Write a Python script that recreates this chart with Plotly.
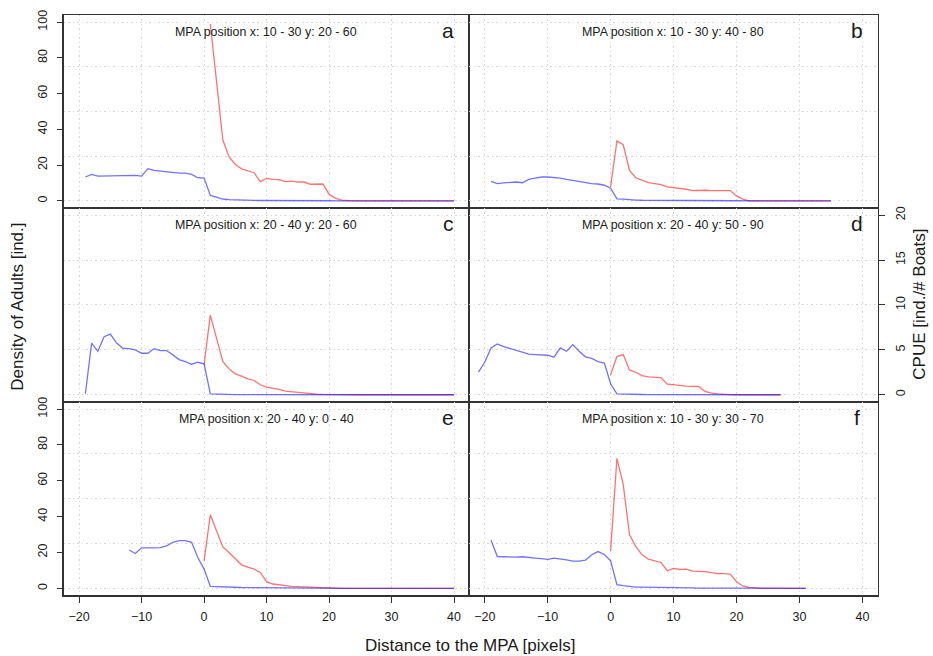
import plotly.graph_objects as go

# ---------------- data ----------------
panel_ids = ["a", "b", "c", "d", "e", "f"]
panel_titles = [
    "MPA position x: 10 - 30 y: 20 - 60",
    "MPA position x: 10 - 30 y: 40 - 80",
    "MPA position x: 20 - 40 y: 20 - 60",
    "MPA position x: 20 - 40 y: 50 - 90",
    "MPA position x: 20 - 40 y: 0 - 40",
    "MPA position x: 10 - 30 y: 30 - 70",
]

# Density of adults (blue, left axis)
dist_a_density = list(range(-19, 41))
density_a = [13.3, 14.8, 13.8, 13.9, 14.0, 14.2, 14.0, 14.0, 14.2, 13.8, 18.0, 17.0, 16.6, 16.3, 15.7, 15.5, 15.5, 14.8, 12.9, 12.7,
             3.0, 1.8, 1.0, 0.6, 0.4, 0.3, 0.25, 0.2, 0.15, 0.1, 0.1, 0.08, 0.06, 0.05, 0.04, 0.03, 0.02, 0.02, 0.01, 0.01,
             0, 0, 0, 0, 0, 0, 0, 0, 0, 0, 0, 0, 0, 0, 0, 0, 0, 0, 0, 0]
dist_b_density = list(range(-19, 36))
density_b = [10.9, 9.6, 10.0, 10.3, 10.5, 10.1, 12.0, 12.7, 13.3, 13.3, 13.1, 12.7, 12.0, 11.4, 10.7, 10.1, 9.6, 9.4, 8.7, 7.0,
             1.1, 0.9, 0.55, 0.4, 0.3, 0.25, 0.2, 0.15, 0.12, 0.1, 0.08, 0.06, 0.05, 0.04, 0.03, 0.02, 0.02, 0.01, 0.01, 0.01,
             0, 0, 0, 0, 0, 0, 0, 0, 0, 0, 0, 0, 0, 0, 0]
dist_c_density = list(range(-19, 41))
density_c = [0.55, 28.7, 24.2, 32.3, 33.8, 28.8, 25.9, 25.7, 25.0, 23.1, 23.1, 25.7, 24.6, 24.6, 22.2, 19.6, 18.5, 17.0, 18.1, 17.2,
             0.55, 0.37, 0.2, 0.15, 0.12, 0.1, 0.08, 0.06, 0.05, 0.04, 0.03, 0.02, 0.02, 0.01, 0.01,
             0, 0, 0, 0, 0, 0, 0, 0, 0, 0, 0, 0, 0, 0, 0, 0, 0, 0, 0, 0, 0, 0, 0, 0, 0]
dist_d_density = list(range(-21, 28))
density_d = [12.6, 18.1, 26.1, 28.3, 26.8, 25.7, 24.6, 23.8, 22.6, 22.4, 22.2, 22.0, 20.9, 26.1, 24.2, 27.9, 24.2, 21.1, 20.3, 18.5, 17.6, 6.1,
             0.55, 0.37, 0.25, 0.18, 0.14, 0.1, 0.08, 0.06, 0.05, 0.04, 0.03, 0.02, 0.02, 0.01, 0.01,
             0, 0, 0, 0, 0, 0, 0, 0, 0, 0, 0, 0]
dist_e_density = list(range(-12, 41))
density_e = [21.4, 19.4, 22.6, 22.4, 22.6, 22.7, 23.7, 25.7, 26.6, 26.6, 25.7, 17.2, 10.7,
             1.1, 0.9, 0.7, 0.6, 0.5, 0.45, 0.4, 0.35, 0.3, 0.25, 0.2, 0.18, 0.15, 0.12, 0.1, 0.08, 0.06, 0.04, 0.02, 0.01,
             0, 0, 0, 0, 0, 0, 0, 0, 0, 0, 0, 0, 0, 0, 0, 0, 0, 0, 0, 0]
dist_f_density = list(range(-19, 32))
density_f = [26.8, 17.7, 17.6, 17.4, 17.4, 17.6, 17.0, 16.8, 16.6, 16.1, 16.8, 16.5, 15.9, 15.2, 15.2, 15.7, 18.7, 20.5, 18.9, 15.3,
             2.0, 1.5, 0.9, 0.7, 0.6, 0.5, 0.45, 0.4, 0.35, 0.3, 0.25, 0.2, 0.18, 0.15, 0.12, 0.1, 0.08, 0.06, 0.04, 0.02, 0.01,
             0, 0, 0, 0, 0, 0, 0, 0, 0, 0]

# CPUE (red, right axis)
dist_a_cpue = list(range(1, 41))
cpue_a = [19.8, 13.1, 6.8, 4.9, 4.06, 3.58, 3.39, 3.14, 2.14, 2.51, 2.40, 2.36, 2.14, 2.21, 2.10, 2.10, 1.85, 1.88, 1.88, 0.74, 0.30, 0.07,
          0, 0, 0, 0, 0, 0, 0, 0, 0, 0, 0, 0, 0, 0, 0, 0, 0, 0]
dist_b_cpue = list(range(0, 36))
cpue_b = [1.55, 6.7, 6.27, 3.4, 2.58, 2.29, 2.03, 1.92, 1.81, 1.55, 1.48, 1.40, 1.29, 1.14, 1.18, 1.18, 1.14, 1.10, 1.14, 1.14, 0.55, 0.18,
          0, 0, 0, 0, 0, 0, 0, 0, 0, 0, 0, 0, 0, 0]
dist_c_cpue = list(range(0, 41))
cpue_c = [3.36, 8.87, 6.28, 3.7, 2.88, 2.33, 2.07, 1.77, 1.59, 1.11, 0.85, 0.74, 0.59, 0.41, 0.33, 0.26, 0.18, 0.11, 0.07, 0.04, 0.02, 0.01,
          0, 0, 0, 0, 0, 0, 0, 0, 0, 0, 0, 0, 0, 0, 0, 0, 0, 0, 0]
dist_d_cpue = list(range(0, 28))
cpue_d = [2.22, 4.25, 4.47, 2.77, 2.51, 2.14, 2.0, 1.92, 1.92, 1.18, 1.07, 1.04, 0.96, 0.92, 0.92, 0.37, 0.18, 0.11, 0.04, 0.02,
          0, 0, 0, 0, 0, 0, 0, 0]
dist_e_cpue = list(range(0, 41))
cpue_e = [3.07, 8.2, 6.4, 4.62, 4.0, 3.36, 2.62, 2.37, 2.14, 1.77, 0.74, 0.48, 0.37, 0.3, 0.22, 0.18, 0.15, 0.11, 0.07, 0.04,
          0, 0, 0, 0, 0, 0, 0, 0, 0, 0, 0, 0, 0, 0, 0, 0, 0, 0, 0, 0, 0]
dist_f_cpue = list(range(0, 32))
cpue_f = [4.18, 14.5, 11.6, 6.0, 4.66, 3.73, 3.25, 3.07, 2.88, 1.96, 2.22, 2.10, 2.14, 1.92, 1.92, 1.85, 1.74, 1.63, 1.63, 1.59, 0.74, 0.26, 0.11, 0.04,
          0, 0, 0, 0, 0, 0, 0, 0]

density_dist = [dist_a_density, dist_b_density, dist_c_density, dist_d_density, dist_e_density, dist_f_density]
density_vals = [density_a, density_b, density_c, density_d, density_e, density_f]
cpue_dist = [dist_a_cpue, dist_b_cpue, dist_c_cpue, dist_d_cpue, dist_e_cpue, dist_f_cpue]
cpue_vals = [cpue_a, cpue_b, cpue_c, cpue_d, cpue_e, cpue_f]

x_ticks = [-20, -10, 0, 10, 20, 30, 40]
density_ticks = [0, 20, 40, 60, 80, 100]
cpue_ticks = [0, 5, 10, 15, 20]

# ---------------- layout geometry ----------------
W, H = 933, 656
col_px = [(63.5, 469.0), (469.0, 877.5)]
row_px = [(10.0, 204.5), (204.5, 400.0), (400.0, 595.0)]

FONT = "Liberation Sans, Arial, sans-serif"
BLUE = "rgba(20,20,255,0.6)"
RED = "rgba(255,20,20,0.6)"
LINEC = "#333333"
GRIDC = "#d6d6d6"
GRIDDASH = "1.5px,3px"
TXT = "#1a1a1a"

fig = go.Figure()
layout = dict(
    width=W, height=H,
    margin=dict(l=0, r=0, t=0, b=0),
    paper_bgcolor="white", plot_bgcolor="rgba(0,0,0,0)",
    showlegend=False,
    font=dict(family=FONT, color=TXT),
)
annotations = []

for i in range(6):
    r, c = divmod(i, 2)
    x0, x1 = col_px[c]
    y0, y1 = row_px[r]
    xd = [x0 / W, x1 / W]
    yd = [1 - y1 / H, 1 - y0 / H]
    n = i + 1
    xa = "xaxis" if n == 1 else f"xaxis{n}"
    ya_main = "yaxis" if n == 1 else f"yaxis{n}"      # CPUE (grid source)
    ya_over = f"yaxis{n + 6}"                          # Density (overlay)
    xref = "x" if n == 1 else f"x{n}"
    yref_main = "y" if n == 1 else f"y{n}"
    yref_over = f"y{n + 6}"

    bottom = (r == 2)
    layout[xa] = dict(
        domain=xd, anchor=yref_main, range=[-22.5, 42.4],
        tickvals=x_ticks, showticklabels=bottom,
        ticks="outside" if bottom else "", ticklen=6, tickcolor=LINEC,
        tickfont=dict(size=12.5, color=TXT), ticklabelstandoff=3,
        showgrid=True, gridcolor=GRIDC, griddash=GRIDDASH, gridwidth=1,
        zeroline=False, showline=True, mirror=True, linecolor=LINEC, linewidth=1.3,
    )
    right_labels = (i == 3)
    layout[ya_main] = dict(
        domain=yd, anchor=xref, side="right", range=[-0.8, 20.8],
        tickvals=cpue_ticks, showticklabels=right_labels,
        ticks="outside" if right_labels else "", ticklen=6, tickcolor=LINEC,
        tickangle=-90, tickfont=dict(size=12.5, color=TXT), ticklabelstandoff=5,
        showgrid=True, gridcolor=GRIDC, griddash=GRIDDASH, gridwidth=1,
        zeroline=False, showline=True, mirror=True, linecolor=LINEC, linewidth=1.3,
    )
    left_labels = i in (0, 4)
    layout[ya_over] = dict(
        overlaying=yref_main, anchor=xref, side="left", range=[-4, 104],
        tickvals=density_ticks, showticklabels=left_labels,
        ticks="outside" if left_labels else "", ticklen=6, tickcolor=LINEC,
        tickangle=-90, tickfont=dict(size=12.5, color=TXT), ticklabelstandoff=5,
        showgrid=False, zeroline=False, showline=False,
    )

    fig.add_trace(go.Scatter(
        x=density_dist[i], y=density_vals[i], mode="lines",
        line=dict(color=BLUE, width=1.3), xaxis=xref, yaxis=yref_over,
        name="Density of Adults",
    ))
    fig.add_trace(go.Scatter(
        x=cpue_dist[i], y=cpue_vals[i], mode="lines",
        line=dict(color=RED, width=1.3), xaxis=xref, yaxis=yref_main,
        name="CPUE",
    ))

    annotations.append(dict(
        text=panel_titles[i], xref="paper", yref="paper",
        x=(x0 + x1) / 2 / W, y=1 - (y0 + 17) / H,
        xanchor="center", yanchor="middle", showarrow=False,
        font=dict(size=12.4, color=TXT, family=FONT),
    ))
    annotations.append(dict(
        text=panel_ids[i], xref="paper", yref="paper",
        x=(x1 - 21) / W, y=1 - (y0 + 16) / H,
        xanchor="center", yanchor="middle", showarrow=False,
        font=dict(size=21, color=TXT, family=FONT),
    ))

annotations.append(dict(
    text="Density of Adults [ind.]", xref="paper", yref="paper",
    x=18 / W, y=1 - 304 / H, textangle=-90, showarrow=False,
    xanchor="center", yanchor="middle",
    font=dict(size=17, color=TXT, family=FONT),
))
annotations.append(dict(
    text="CPUE [ind./# Boats]", xref="paper", yref="paper",
    x=920 / W, y=1 - 302 / H, textangle=-90, showarrow=False,
    xanchor="center", yanchor="middle",
    font=dict(size=17, color=TXT, family=FONT),
))
annotations.append(dict(
    text="Distance to the MPA [pixels]", xref="paper", yref="paper",
    x=470 / W, y=1 - 645 / H, showarrow=False,
    xanchor="center", yanchor="middle",
    font=dict(size=17, color=TXT, family=FONT),
))

layout["annotations"] = annotations
fig.update_layout(**layout)
fig.write_html(
    "out.html",
    config={"displayModeBar": False, "staticPlot": True},
    post_script="document.body.style.margin='0px';document.body.style.overflow='hidden';",
)
